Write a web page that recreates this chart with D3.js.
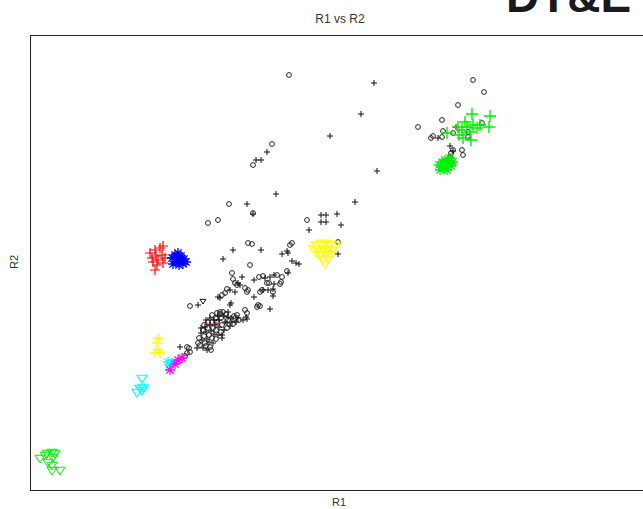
<!DOCTYPE html>
<html>
<head>
<meta charset="utf-8">
<script src="https://cdn.jsdelivr.net/npm/d3@7"></script>
<style>
  body { margin: 0; background: #fff; }
  svg { display: block; }
</style>
</head>
<body>
<div class="chart"></div>
<script>
// values, [R1, R2]
const blackCircles = [
  [2.59, 4.15], [2.42, 3.46], [2.23, 3.25], [1.99, 2.86], [1.88, 2.70], [1.78, 2.67],
  [2.23, 2.77], [2.77, 2.70], [3.08, 2.48],
  [4.43, 4.10], [4.54, 3.98], [4.28, 3.85], [4.12, 3.70], [3.88, 3.63], [4.13, 3.59],
  [4.23, 3.57], [4.03, 3.54], [4.01, 3.52], [4.12, 3.53], [4.52, 3.67], [4.38, 3.58],
  [4.38, 3.53], [4.23, 3.40], [4.21, 3.37], [4.20, 3.33], [4.32, 3.40], [4.33, 3.35],
  [2.18, 2.47], [2.22, 2.46], [2.60, 2.45], [2.62, 2.47], [2.20, 2.25], [2.02, 2.17],
  [2.57, 2.19], [2.29, 2.13], [2.33, 2.14], [2.47, 2.15], [2.52, 2.13], [2.51, 2.08],
  [2.50, 2.06], [2.03, 2.11], [2.05, 2.07], [2.07, 2.05], [2.37, 2.07], [2.39, 2.07],
  [2.15, 2.02], [2.18, 2.00], [2.17, 1.98], [1.97, 2.01], [1.95, 1.97], [1.92, 1.95],
  [2.32, 2.00], [2.30, 1.98], [2.43, 1.98], [1.60, 1.84], [2.28, 1.85], [2.30, 1.84],
  [2.27, 1.83], [2.15, 1.80], [2.17, 1.77], [1.93, 1.78], [1.90, 1.78], [1.87, 1.77],
  [2.07, 1.75], [2.05, 1.72],
  [1.57, 1.43], [1.59, 1.42], [1.60, 1.38], [1.57, 1.37], [1.55, 1.34],
  [1.70, 1.45], [1.74, 1.54], [1.78, 1.62], [1.82, 1.68], [1.86, 1.72], [1.90, 1.76],
  [1.75, 1.47], [1.79, 1.55], [1.83, 1.62], [1.87, 1.68], [1.91, 1.72], [1.96, 1.76],
  [1.69, 1.52], [1.73, 1.60], [1.78, 1.68], [1.82, 1.75], [1.76, 1.44], [1.82, 1.52],
  [1.86, 1.60], [1.92, 1.65], [1.98, 1.70], [2.04, 1.74], [1.80, 1.43], [1.86, 1.51],
  [1.91, 1.58], [1.97, 1.62], [2.03, 1.66], [2.09, 1.70], [1.74, 1.65], [1.68, 1.47],
  [1.81, 1.40]
];

const blackPlus = [
  [3.44, 4.07], [3.31, 3.76], [3.00, 3.54], [3.47, 3.19], [2.37, 3.38], [2.26, 3.30],
  [2.31, 3.30], [2.46, 2.96], [2.17, 2.86], [2.23, 2.76], [3.25, 2.88], [2.91, 2.75],
  [2.96, 2.75], [2.91, 2.68], [2.96, 2.68], [3.07, 2.76], [3.11, 2.65], [2.79, 2.60],
  [3.08, 2.36], [4.26, 3.63], [4.08, 3.52], [4.20, 3.44], [4.23, 3.39],
  [2.03, 2.40], [2.31, 2.40], [1.93, 2.31], [2.52, 2.36], [2.57, 2.39], [2.58, 2.37],
  [2.62, 2.29], [2.66, 2.27], [2.69, 2.26], [2.12, 2.13], [2.58, 2.17], [2.24, 2.10],
  [2.35, 2.12], [2.40, 2.13], [2.44, 2.15], [2.08, 2.07], [2.10, 2.05], [2.44, 2.06],
  [2.43, 2.01], [2.00, 2.00], [2.05, 1.98], [1.88, 1.93], [1.90, 1.92], [2.33, 2.00],
  [2.38, 2.00], [2.24, 1.93], [2.43, 1.94], [1.68, 1.85], [2.01, 1.87], [2.40, 1.81],
  [2.16, 1.73], [2.17, 1.71], [1.98, 1.73], [2.08, 1.72], [1.97, 1.67], [2.13, 1.70],
  [2.02, 1.68], [1.92, 1.55], [1.92, 1.52], [2.00, 1.85], [1.50, 1.43], [1.67, 1.42],
  [1.72, 1.50], [1.76, 1.58], [1.80, 1.65], [1.84, 1.70], [1.88, 1.74], [1.73, 1.42],
  [1.77, 1.51], [1.81, 1.59], [1.85, 1.65], [1.89, 1.70], [1.94, 1.74], [1.98, 1.78],
  [1.71, 1.57], [1.75, 1.63], [1.80, 1.72], [1.79, 1.48], [1.84, 1.56], [1.89, 1.63],
  [1.95, 1.68], [2.01, 1.72], [1.83, 1.47], [1.88, 1.55], [1.94, 1.60], [2.00, 1.64],
  [2.06, 1.68], [1.76, 1.70], [1.71, 1.62], [1.77, 1.40]
];

const blackTriangles = [[1.73, 1.89]];

const redPlus = [
  [1.25, 2.40], [1.30, 2.42], [1.33, 2.44], [1.20, 2.37], [1.26, 2.34], [1.22, 2.32],
  [1.28, 2.30], [1.32, 2.35], [1.23, 2.28], [1.27, 2.25], [1.33, 2.27], [1.25, 2.20],
  [1.35, 2.32]
];
const redSmall = [[1.76, 1.66], [1.86, 1.67]];

const blueStars = [
  [1.42, 2.32], [1.45, 2.35], [1.48, 2.37], [1.51, 2.34], [1.54, 2.31], [1.56, 2.28],
  [1.50, 2.30], [1.46, 2.28], [1.43, 2.26], [1.49, 2.25], [1.53, 2.26], [1.47, 2.32]
];

const yellowPlus = [[1.28, 1.52], [1.27, 1.47], [1.25, 1.37], [1.30, 1.37], [1.28, 1.40]];
const yellowTriangles = [
  [2.88, 2.44], [2.93, 2.46], [2.98, 2.45], [3.03, 2.44], [2.90, 2.38], [2.96, 2.40],
  [3.01, 2.39], [2.93, 2.34], [2.98, 2.34], [2.95, 2.29], [2.86, 2.40]
];

const cyanStars = [[1.38, 1.28], [1.42, 1.27], [1.40, 1.25]];
const cyanTriangles = [[1.12, 1.12], [1.10, 1.02], [1.07, 0.98], [1.12, 1.00], [1.13, 1.03]];
const magentaStars = [[1.40, 1.20], [1.48, 1.30], [1.52, 1.32], [1.45, 1.26]];

const greenPlus = [
  [4.60, 3.74], [4.42, 3.76], [4.59, 3.63], [4.35, 3.68], [4.37, 3.63], [4.32, 3.60],
  [4.47, 3.62], [4.50, 3.65], [4.40, 3.58], [4.29, 3.55], [4.33, 3.52], [4.41, 3.50],
  [4.17, 3.57], [4.28, 3.63], [4.43, 3.65]
];
const greenStars = [
  [4.09, 3.25], [4.12, 3.28], [4.15, 3.30], [4.18, 3.27], [4.21, 3.24], [4.14, 3.22],
  [4.10, 3.20], [4.17, 3.20], [4.23, 3.28], [4.20, 3.32]
];
const greenTriangles = [
  [0.10, 0.32], [0.15, 0.35], [0.22, 0.38], [0.23, 0.33], [0.18, 0.28], [0.22, 0.25],
  [0.30, 0.20], [0.22, 0.20], [0.17, 0.37], [0.25, 0.37]
];

const width = 643, height = 509;
const margin = {top: 35, left: 30, bottom: 19};
const plotW = 615, plotH = height - margin.top - margin.bottom;

const svg = d3.select(".chart")
              .append("svg")
              .attr("width", width)
              .attr("height", height);

const xScale = d3.scaleLinear()
                 .domain([0, 6.15])
                 .range([margin.left, margin.left + plotW]);

const yScale = d3.scaleLinear()
                 .domain([0, 4.55])
                 .range([margin.top + plotH, margin.top]);

// marker shapes
const plusPath = s => `M${-s},0H${s}M0,${-s}V${s}`;
const starPath = s => {
  const d = s * 0.72;
  return plusPath(s) + `M${-d},${-d}L${d},${d}M${-d},${d}L${d},${-d}`;
};
const triPath = s => `M${-s},${-s * 0.55}L${s},${-s * 0.55}L0,${s * 1.0}Z`;
const circlePath = r => `M${-r},0A${r},${r} 0 1,0 ${r},0A${r},${r} 0 1,0 ${-r},0Z`;

const drawPoints = (data, path, color, sw) => {
  svg.append("g")
     .selectAll("path")
     .data(data)
     .join("path")
     .attr("transform", d => `translate(${xScale(d[0])},${yScale(d[1])})`)
     .attr("d", path)
     .attr("fill", "none")
     .attr("stroke", color)
     .attr("stroke-width", sw);
};

drawPoints(blackCircles, circlePath(2.4), "#222", 1);
drawPoints(blackPlus, plusPath(3), "#111", 1);
drawPoints(blackTriangles, triPath(3), "#111", 1);
drawPoints(redPlus, plusPath(5), "#ff0000", 1.2);
drawPoints(redSmall, plusPath(1.5), "#ff0000", 1);
drawPoints(blueStars, starPath(5), "#0000ff", 1.3);
drawPoints(yellowPlus, plusPath(5), "#ffff00", 1.4);
drawPoints(yellowTriangles, triPath(7), "#ffff00", 1.2);
drawPoints(cyanTriangles, triPath(5), "#00ffff", 1.2);
drawPoints(cyanStars, starPath(5), "#00ffff", 1.3);
drawPoints(magentaStars, starPath(5), "#ff00ff", 1.3);
drawPoints(greenTriangles, triPath(5), "#00ee00", 1);
drawPoints(greenPlus, plusPath(6), "#00ee00", 1.4);
drawPoints(greenStars, starPath(5), "#00ee00", 1.3);

// plot frame
svg.append("rect")
   .attr("x", xScale.range()[0] + 0.5)
   .attr("y", yScale.range()[1] + 0.5)
   .attr("width", plotW)
   .attr("height", plotH)
   .attr("fill", "none")
   .attr("stroke", "#222")
   .attr("stroke-width", 1);

svg.append("text")
   .text("R1 vs R2")
   .attr("x", 340)
   .attr("y", 23)
   .attr("text-anchor", "middle")
   .style("font-family", "Liberation Sans, Arial, sans-serif")
   .style("font-size", "12px")
   .attr("fill", "#333");

svg.append("text")
   .text("R1")
   .attr("x", 339)
   .attr("y", 506)
   .attr("text-anchor", "middle")
   .style("font-family", "Liberation Sans, Arial, sans-serif")
   .style("font-size", "11px")
   .attr("fill", "#333");

svg.append("text")
   .text("R2")
   .attr("transform", "translate(18, 262) rotate(-90)")
   .attr("text-anchor", "middle")
   .style("font-family", "Liberation Sans, Arial, sans-serif")
   .style("font-size", "11px")
   .attr("fill", "#333");

svg.append("text")
   .text("DT&E")
   .attr("x", 506)
   .attr("y", 12)
   .style("font-family", "Liberation Sans, Arial, sans-serif")
   .style("font-weight", "bold")
   .style("font-size", "46px")
   .attr("fill", "#1a1a1a");
</script>
</body>
</html>
